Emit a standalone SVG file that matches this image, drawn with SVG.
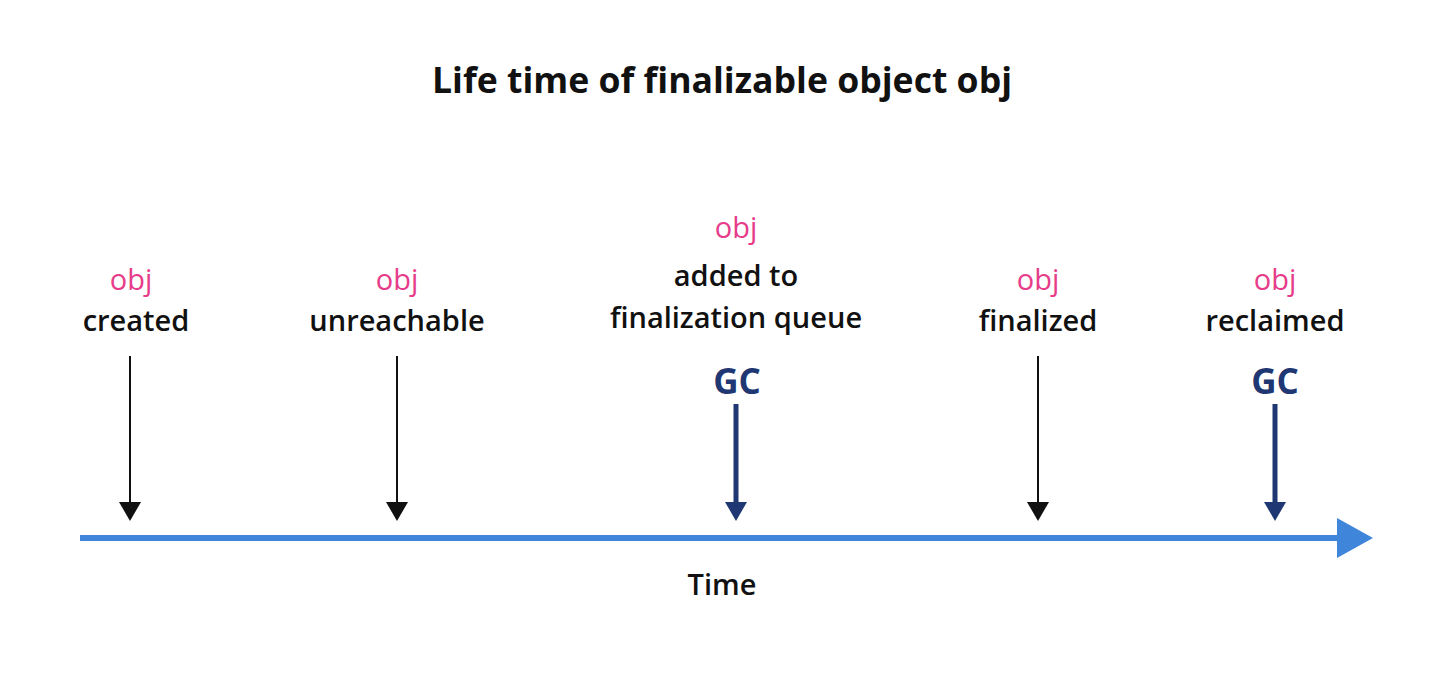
<svg xmlns="http://www.w3.org/2000/svg" width="1438" height="673" viewBox="0 0 1438 673">
<defs>
<style>
text{font-family:"Open Sans","Noto Sans","Liberation Sans",sans-serif;text-anchor:middle}
.title{font-size:35.6px;font-weight:700;fill:#111}
.lbl{font-size:29px;font-weight:600;fill:#111}
.obj{font-size:29px;font-weight:400;fill:#e63c89}
.gc{font-size:35px;font-weight:700;fill:#1f3773}
.thin{stroke:#111;stroke-width:2;fill:none}
.thick{stroke:#1f3773;stroke-width:5;fill:none}
.axis{stroke:#3f86db;stroke-width:6;fill:none}
</style>
</defs>
<rect width="1438" height="673" fill="#fff"/>
<text class="title" x="722" y="93">Life time of finalizable object obj</text>
<g id="created">
<text class="obj" x="131" y="290">obj</text>
<text class="lbl" x="136" y="331">created</text>
</g>
<g id="unreachable">
<text class="obj" x="397" y="290">obj</text>
<text class="lbl" x="397" y="331">unreachable</text>
</g>
<g id="added">
<text class="obj" x="736" y="238">obj</text>
<text class="lbl" x="736" y="286">added to</text>
<text class="lbl" x="736" y="328">finalization queue</text>
<text class="gc" x="737" y="394">GC</text>
</g>
<g id="finalized">
<text class="obj" x="1038" y="290">obj</text>
<text class="lbl" x="1038" y="331">finalized</text>
</g>
<g id="reclaimed">
<text class="obj" x="1275" y="290">obj</text>
<text class="lbl" x="1275" y="331">reclaimed</text>
<text class="gc" x="1275" y="394">GC</text>
</g>
<g id="time">
<text class="lbl" x="722" y="595">Time</text>
</g>
<g id="connectors">
<line class="axis" x1="80" y1="538" x2="1340" y2="538"/>
<polygon points="1337,518 1373,538 1337,558" fill="#3f86db"/>
<line class="thin" x1="130" y1="356" x2="130" y2="504"/>
<polygon points="119,502 141,502 130,521" fill="#111"/>
<line class="thin" x1="397" y1="356" x2="397" y2="504"/>
<polygon points="386,502 408,502 397,521" fill="#111"/>
<line class="thin" x1="1038" y1="356" x2="1038" y2="504"/>
<polygon points="1027,502 1049,502 1038,521" fill="#111"/>
<line class="thick" x1="736" y1="404" x2="736" y2="504"/>
<polygon points="725,502 747,502 736,521" fill="#1f3773"/>
<line class="thick" x1="1275" y1="404" x2="1275" y2="504"/>
<polygon points="1264,502 1286,502 1275,521" fill="#1f3773"/>
</g>
</svg>
